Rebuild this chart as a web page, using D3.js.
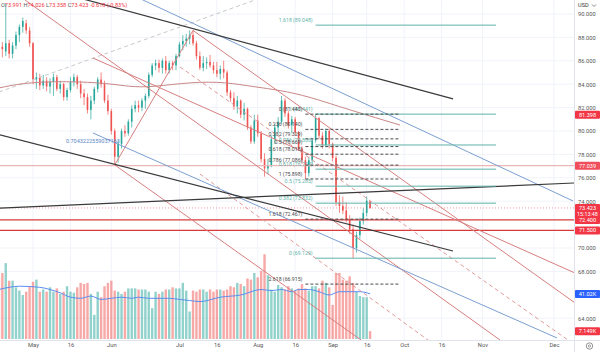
<!DOCTYPE html>
<html>
<head>
<meta charset="utf-8">
<script src="https://cdn.jsdelivr.net/npm/d3@7"></script>
<style>
  html, body { margin: 0; padding: 0; background: #fff; }
  svg { display: block; font-family: Roboto, "Noto Sans", sans-serif; }
</style>
</head>
<body>
<svg id="chart" width="600" height="352"></svg>
<script>
// daily bars from 2024-04-17 (weekdays)
const opens = [
  87.8, 87.2, 86.8, 87.5, 86.6, 87.3, 88.2, 88.9, 89.2, 88.6,
  87.5, 84.4, 84.6, 83.9, 84.3, 83.8, 84.2, 84.6, 83.6, 84.0, 82.9, 83.5, 84.2, 84.6, 84.0, 83.2, 82.9, 81.8, 82.6, 83.6, 84.4, 84.0, 82.6,
  81.7, 80.0, 77.8, 78.9, 80.0, 79.8, 80.8, 81.9, 82.2, 82.0, 82.6, 83.0, 84.8, 85.6, 85.8, 85.4, 86.0, 85.2, 85.8, 85.6,
  86.4, 87.4, 87.7, 87.9, 88.2, 87.5, 86.4, 85.4, 85.8, 85.9, 85.6, 85.2, 84.9, 85.3, 85.0, 83.3, 82.8, 82.1, 82.6, 81.4, 81.9, 80.3, 79.1,
  80.9, 79.8, 77.6, 76.8, 77.0, 79.3, 80.3, 80.8, 82.6, 81.5, 80.5, 81.0, 79.9, 78.5, 77.5, 76.4, 77.5, 79.2, 81.1, 79.6, 78.8, 80.0,
  78.9, 77.7, 73.9, 73.6, 73.2, 72.4, 71.6, 70.0, 71.1, 72.3, 73.0, 73.991
];
const highs = [
  88.2, 87.6, 90.9, 87.8, 87.6, 88.5, 89.1, 89.7, 89.5, 88.9,
  87.6, 85.0, 84.9, 84.8, 84.6, 84.5, 84.9, 84.8, 84.3, 84.1, 83.7, 84.6, 84.9, 84.8, 84.3, 83.6, 83.2, 83.0, 83.8, 84.6, 85.0, 84.3, 83.1,
  81.9, 80.2, 79.2, 80.2, 80.5, 81.0, 82.2, 82.6, 82.6, 82.8, 83.2, 85.0, 85.8, 86.1, 86.1, 86.2, 86.4, 86.0, 86.0, 86.6,
  87.6, 88.2, 88.3, 88.6, 88.6, 87.7, 86.8, 86.4, 86.3, 86.5, 85.9, 85.9, 85.6, 86.0, 85.2, 83.5, 83.3, 83.0, 82.7, 82.4, 82.0, 80.5, 81.4,
  81.4, 80.0, 78.1, 77.6, 79.6, 80.6, 81.2, 83.0, 82.8, 81.7, 81.3, 81.2, 80.0, 78.7, 77.8, 77.8, 79.4, 81.44, 81.2, 79.9, 80.2, 80.2,
  79.0, 77.9, 74.5, 74.4, 73.9, 72.8, 72.0, 71.4, 72.6, 73.4, 74.4, 74.026
];
const lows = [
  86.8, 86.3, 86.4, 86.2, 86.2, 87.0, 87.6, 88.4, 88.3, 87.2,
  84.0, 83.6, 83.5, 83.6, 83.4, 83.2, 83.0, 83.4, 83.2, 82.6, 82.6, 83.3, 83.8, 83.6, 82.8, 82.2, 81.5, 81.0, 82.3, 83.3, 83.7, 82.4, 81.4,
  79.7, 77.1, 77.3, 78.5, 79.5, 79.6, 80.3, 81.6, 81.6, 81.7, 81.9, 82.8, 84.6, 85.2, 85.0, 84.9, 84.9, 84.9, 85.2, 85.2,
  86.3, 86.9, 87.2, 87.4, 87.3, 86.1, 85.2, 85.1, 85.3, 85.4, 84.9, 84.6, 84.4, 84.5, 83.0, 82.5, 81.8, 81.5, 81.1, 80.9, 80.1, 78.9, 78.9,
  79.5, 77.3, 76.1, 76.3, 76.9, 78.9, 79.9, 80.6, 81.2, 80.2, 79.8, 79.6, 78.3, 77.2, 75.898, 76.1, 77.2, 79.0, 79.3, 78.5, 78.6, 78.5,
  77.4, 73.6, 73.0, 72.9, 72.2, 71.2, 69.129, 69.6, 70.8, 72.0, 72.7, 73.358
];
const closes = [
  87.2, 87.0, 87.5, 86.6, 87.3, 88.2, 88.9, 89.4, 88.6, 87.5,
  84.4, 84.6, 83.9, 84.3, 83.8, 84.2, 84.6, 83.6, 84.0, 82.9, 83.5, 84.2, 84.6, 84.0, 83.2, 82.9, 81.8, 82.6, 83.6, 84.4, 84.0, 82.6, 81.7,
  80.0, 77.8, 78.9, 80.0, 79.8, 80.8, 81.9, 82.2, 82.0, 82.6, 83.0, 84.8, 85.6, 85.8, 85.4, 86.0, 85.2, 85.8, 85.6, 86.4,
  87.4, 87.7, 87.9, 88.2, 87.5, 86.4, 85.4, 85.8, 85.9, 85.6, 85.2, 84.9, 85.3, 85.0, 83.3, 82.8, 82.1, 82.6, 81.4, 81.9, 80.3, 79.1, 80.9,
  79.8, 77.6, 76.8, 77.0, 79.3, 80.3, 80.8, 82.6, 81.5, 80.5, 81.0, 79.9, 78.5, 77.5, 76.4, 77.5, 79.2, 81.1, 79.6, 78.8, 80.0, 78.9,
  77.7, 73.9, 73.6, 73.2, 72.4, 71.6, 70.0, 71.1, 72.3, 73.0, 74.041, 73.423
];
// volume in thousands
const volumes = [
  56, 60, 69, 53, 53, 47, 44, 40, 43, 48,
  52, 54, 43, 45, 43, 47, 43, 46, 41, 43, 48, 43, 42, 47, 51, 50, 51, 41, 22, 43, 38, 48, 51,
  53, 44, 43, 41, 43, 46, 46, 46, 45, 45, 45, 43, 28, 43, 41, 43, 45, 45, 47, 46,
  46, 51, 44, 25, 44, 43, 45, 45, 43, 45, 43, 45, 45, 44, 45, 48, 47, 51, 50, 48, 55, 54, 60,
  56, 62, 77, 58, 45, 43, 49, 47, 45, 48, 46, 44, 46, 50, 46, 44, 48, 48, 46, 53, 51, 47,
  31, 60, 60, 54, 53, 57, 51, 43, 39, 38, 38, 7.149
];
// volume moving average, read at these bar numbers
const maBars = [0, 3, 6, 12, 15, 18, 21, 24, 27, 30, 33, 36, 39, 41, 44, 47, 50, 53, 56, 59, 65, 71, 77, 80, 83, 86, 88, 91, 94, 97, 100, 103, 106, 109];
const maValues = [45, 47, 48, 47, 45, 42, 38, 37, 39, 36, 37, 38, 37, 38, 37, 37, 37, 36, 35, 34, 38, 40, 45, 44, 45, 43, 45, 45, 43, 40, 43, 43, 43, 41.02];

const priceTicks = [64, 68, 70, 74, 76, 78, 80, 82, 84, 86, 88, 90];
const tickDates = ["2024-05-01", "2024-05-16", "2024-06-03", "2024-07-01", "2024-07-16", "2024-08-01", "2024-08-16", "2024-09-02", "2024-09-16", "2024-10-01", "2024-10-16", "2024-11-01", "2024-12-02"];
const tickLabels = ["May", "16", "Jun", "Jul", "16", "Aug", "16", "Sep", "16", "Oct", "16", "Nov", "Dec"];

// drawings: [bar number, price] pairs
const darkLines = [[[10, 92.44], [133.35, 82.74]], [[0, 79.69], [133.35, 69.74]], [[0, 73.41], [169.2, 75.56]]];
const blueLines = [[[30, 92.87], [168.6, 74.02]], [[27.6, 79.83], [163.9, 62.31]]];
const redLines = [[[7.65, 91.2], [147.15, 62.14]], [[34, 77.1], [107, 62.0]], [[57, 88.6], [169.2, 65.3]], [[27.6, 86.24], [169.2, 67.86]], [[34, 77.1], [57, 88.6]]];
const redDashed = [[[59, 76.33], [127.2, 61.88]], [[53.2, 85.47], [167.1, 62.14]]];
const greyDashed = [[[0, 83.33], [75.2, 91.2]]];
const arcPoints = [[0, 83.68], [10, 84.27], [29.7, 84.19], [38.5, 83.76], [45, 83.76], [56.7, 84.19], [66.4, 84.19], [75.2, 83.76], [82.5, 83.5], [91.4, 82.91], [100.2, 82.05], [117.8, 80.51]];
const pitchLabel = "0.7043222559037163";

const redLevels = [72.4, 71.5];
const pinkLevel = 77.039;
const alertLevel = 81.398;

const fibDarkRatios = ["0", "0.236", "0.382", "0.5", "0.618", "0.786", "1", "1.618", "2.618"];
const fibDarkPrices = [81.440, 80.140, 79.329, 78.669, 78.018, 77.086, 75.898, 72.467, 66.915];
const fibDarkSpan = [90, 117.8];
const fibTealRatios = ["0", "0.382", "0.5", "0.618", "0.786", "1", "1.618"];
const fibTealPrices = [69.129, 73.832, 75.285, 76.738, 78.806, 81.441, 89.048];
const fibTealSpan = [93, 146];

const plotW = 574, plotH = 340;
const up = "#26a69a", down = "#ef5350";

const svg = d3.select("#chart");
const x = d3.scaleLinear().domain([10, 110]).range([33, 373.5]);
const y = d3.scaleLinear().domain([64, 90]).range([318.2, 14]);
const vy = d3.scaleLinear().domain([0, 80]).range([339, 251]);

const days = [];
for (let d = new Date(2024, 3, 17); days.length < 200; d.setDate(d.getDate() + 1)) {
  if (d.getDay() % 6 !== 0) days.push(new Date(d));
}
const fmtDay = d3.timeFormat("%Y-%m-%d");
const tickBars = tickDates.map(s => days.findIndex(d => fmtDay(d) === s));

svg.append("defs").append("clipPath").attr("id", "plot")
  .append("rect").attr("width", plotW).attr("height", plotH);

// grid
svg.append("g").selectAll("line").data(tickBars).join("line")
  .attr("x1", d => x(d)).attr("x2", d => x(d)).attr("y1", 0).attr("y2", plotH)
  .attr("stroke", "#f0f3fa");
svg.append("g").selectAll("line").data(priceTicks).join("line")
  .attr("x1", 0).attr("x2", plotW).attr("y1", d => y(d)).attr("y2", d => y(d))
  .attr("stroke", "#f0f3fa");

const plot = svg.append("g").attr("clip-path", "url(#plot)");
const bars = d3.range(opens.length);
const isUp = i => closes[i] >= opens[i];

// volume
plot.append("g").selectAll("rect").data(bars).join("rect")
  .attr("x", i => x(i) - 1.2)
  .attr("width", 2.4)
  .attr("y", i => vy(volumes[i]))
  .attr("height", i => vy(0) - vy(volumes[i]))
  .attr("fill", i => isUp(i) ? "rgba(38,166,154,0.5)" : "rgba(239,83,80,0.5)");

plot.append("path")
  .datum(d3.range(maBars.length))
  .attr("d", d3.line().x(k => x(maBars[k])).y(k => vy(maValues[k])).curve(d3.curveMonotoneX))
  .attr("fill", "none").attr("stroke", "#5b8def").attr("stroke-width", 1);

// candles
plot.append("g").selectAll("line").data(bars).join("line")
  .attr("x1", i => x(i)).attr("x2", i => x(i))
  .attr("y1", i => y(highs[i])).attr("y2", i => y(lows[i]))
  .attr("stroke", i => isUp(i) ? up : down).attr("stroke-width", 0.7);
plot.append("g").selectAll("rect").data(bars).join("rect")
  .attr("x", i => x(i) - 0.8)
  .attr("width", 1.6)
  .attr("y", i => y(Math.max(opens[i], closes[i])))
  .attr("height", i => Math.max(0.8, Math.abs(y(opens[i]) - y(closes[i]))))
  .attr("fill", i => isUp(i) ? up : down);

// horizontal levels
plot.append("line")
  .attr("x1", 0).attr("x2", plotW).attr("y1", y(pinkLevel)).attr("y2", y(pinkLevel))
  .attr("stroke", "#eab6b6").attr("stroke-width", 1.4);
plot.append("g").selectAll("line").data(redLevels).join("line")
  .attr("x1", 0).attr("x2", plotW).attr("y1", d => y(d)).attr("y2", d => y(d))
  .attr("stroke", "#d83a3a").attr("stroke-width", 1.3);
plot.append("line")
  .attr("x1", 0).attr("x2", plotW)
  .attr("y1", y(closes[closes.length - 1])).attr("y2", y(closes[closes.length - 1]))
  .attr("stroke", "#f23645").attr("stroke-opacity", 0.5).attr("stroke-dasharray", "1,2");

// trend drawings
const seg = d3.line().x(d => x(d[0])).y(d => y(d[1]));
function drawSet(set, color, width, dash) {
  plot.append("g").selectAll("path").data(set).join("path")
    .attr("d", seg)
    .attr("fill", "none")
    .attr("stroke", color)
    .attr("stroke-width", width)
    .attr("stroke-dasharray", dash);
}
drawSet(greyDashed, "#c9c9c9", 1, "4,3");
plot.append("path").datum(arcPoints)
  .attr("d", seg.curve(d3.curveBasis))
  .attr("fill", "none").attr("stroke", "#c98686").attr("stroke-width", 1);
seg.curve(d3.curveLinear);
drawSet(redLines, "#d77f7f", 1, null);
drawSet(redDashed, "#e29a9a", 1, "4,3");
drawSet(blueLines, "#7b9fd0", 1, null);
drawSet(darkLines, "#3a3a3a", 1.2, null);

svg.append("text")
  .attr("x", x(blueLines[1][0][0])).attr("y", y(blueLines[1][0][1]) + 10)
  .attr("text-anchor", "middle").attr("font-size", 5.5).attr("fill", "#5b86c4")
  .text(pitchLabel);

// fibonacci levels; the two tools' labels sit side by side, as in the picture
function drawFib(ratios, prices, span, color, dash, size) {
  const g = svg.append("g");
  g.selectAll("line").data(prices).join("line")
    .attr("x1", x(span[0])).attr("x2", x(span[1]))
    .attr("y1", d => y(d)).attr("y2", d => y(d))
    .attr("stroke", color).attr("stroke-width", 1).attr("stroke-dasharray", dash);
  g.selectAll("text").data(prices).join("text")
    .attr("x", x(span[0]) - 3).attr("y", d => y(d) - 3)
    .attr("text-anchor", "end").attr("font-size", size).attr("fill", color)
    .text((d, k) => `${ratios[k]} (${d.toFixed(3)})`);
}
drawFib(fibTealRatios, fibTealPrices, fibTealSpan, "#5fb3a9", null, 5.2);
drawFib(fibDarkRatios, fibDarkPrices, fibDarkSpan, "#4a4a4a", "3,2", 5.2);

// frame
svg.append("line").attr("x1", plotW + 0.5).attr("x2", plotW + 0.5).attr("y1", 0).attr("y2", 352).attr("stroke", "#e0e3eb");
svg.append("line").attr("x1", 0).attr("x2", 600).attr("y1", plotH + 0.5).attr("y2", plotH + 0.5).attr("stroke", "#e0e3eb");

// axes
const yAxis = svg.append("g").attr("transform", `translate(${plotW + 1},0)`)
  .call(d3.axisRight(y).tickValues(priceTicks).tickFormat(d3.format(".3f")).tickSize(0).tickPadding(3));
const xAxis = svg.append("g").attr("transform", `translate(0,${plotH})`)
  .call(d3.axisBottom(x).tickValues(tickBars).tickFormat((d, k) => tickLabels[k]).tickSize(0).tickPadding(3));
[yAxis, xAxis].forEach(a => {
  a.select(".domain").remove();
  a.selectAll("text").attr("font-size", 5.8).attr("fill", "#555").attr("font-family", "Roboto, sans-serif");
});

// price badges on the axis
const last = closes.length - 1;
function badge(val, text, color, h) {
  const cy = y(val);
  svg.append("rect").attr("x", plotW + 1).attr("y", cy - 4).attr("width", 25).attr("height", h || 8)
    .attr("rx", 1).attr("fill", color);
  svg.append("text").attr("x", plotW + 13.5).attr("y", cy + 2).attr("text-anchor", "middle")
    .attr("font-size", 5.6).attr("fill", "#fff").text(text);
}
badge(alertLevel, alertLevel.toFixed(3), "#f23645");
badge(pinkLevel, pinkLevel.toFixed(3), "#f04e5a");
redLevels.forEach(v => badge(v, v.toFixed(3), "#f23645"));
badge(closes[last], closes[last].toFixed(3), "#f23645", 14);
svg.append("text").attr("x", plotW + 13.5).attr("y", y(closes[last]) + 8.2).attr("text-anchor", "middle")
  .attr("font-size", 5.4).attr("fill", "#fff").text("15:13:48");

function volBadge(val, color) {
  const cy = vy(val);
  svg.append("rect").attr("x", plotW + 1).attr("y", cy - 4).attr("width", 25).attr("height", 8)
    .attr("rx", 1).attr("fill", color);
  svg.append("text").attr("x", plotW + 13.5).attr("y", cy + 2).attr("text-anchor", "middle")
    .attr("font-size", 5.6).attr("fill", "#fff").text(val.toPrecision(4) + "K");
}
volBadge(maValues[maValues.length - 1], "#2962ff");
volBadge(volumes[last], "#f23645");

// header legend
const chg = closes[last] - closes[last - 1];
const legend = svg.append("text").attr("x", 1).attr("y", 7).attr("font-size", 5.6);
[["O", opens[last]], ["H", highs[last]], ["L", lows[last]], ["C", closes[last]]].forEach(([k, v]) => {
  legend.append("tspan").attr("fill", "#555").text(k);
  legend.append("tspan").attr("fill", "#f23645").text(v.toFixed(3) + " ");
});
legend.append("tspan").attr("fill", "#f23645")
  .text(`${chg.toFixed(3)} (${(chg / closes[last - 1] * 100).toFixed(2)}%)`);

// top-right currency and bottom-right settings icon
svg.append("text").attr("x", 578).attr("y", 7).attr("font-size", 5.6).attr("fill", "#333").text("USD");
svg.append("path").attr("d", "M592,4.5 L594,6.5 L596,4.5").attr("fill", "none").attr("stroke", "#555").attr("stroke-width", 0.7);
svg.append("circle").attr("cx", 589.5).attr("cy", 346).attr("r", 3.2).attr("fill", "none").attr("stroke", "#777").attr("stroke-width", 0.8);
svg.append("circle").attr("cx", 589.5).attr("cy", 346).attr("r", 1.1).attr("fill", "none").attr("stroke", "#777").attr("stroke-width", 0.7);
</script>
</body>
</html>
